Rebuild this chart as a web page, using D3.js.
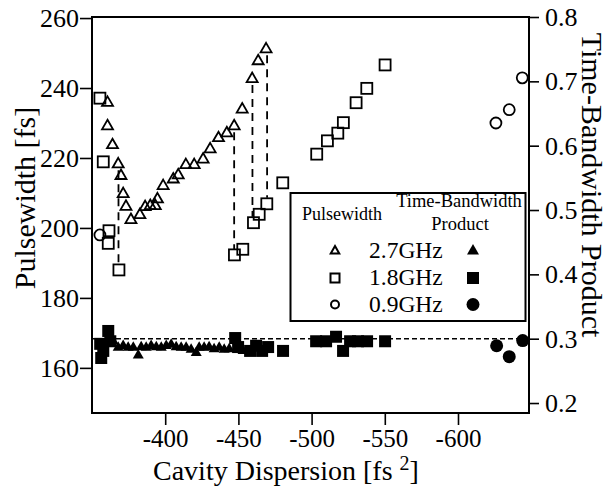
<!DOCTYPE html>
<html>
<head>
<meta charset="utf-8">
<script src="https://cdn.jsdelivr.net/npm/d3@7"></script>
<style>
  body { margin: 0; background: #fff; }
  svg { display: block; }
  text { font-family: "Liberation Serif", "Times New Roman", serif; fill: #000; }
</style>
</head>
<body>
<svg id="chart"></svg>
<script>
// Pulsewidth [fs] vs cavity dispersion [fs^2] (open symbols, left axis)
const pw27 = [[-360.6,235.8],[-360.6,229.1],[-364.0,223.7],[-367.9,218.2],[-369.8,214.9],[-371.3,209.7],
              [-373.2,206.1],[-376.6,202.3],[-382.7,203.7],[-386.3,206.0],[-389.8,206.3],[-393.2,206.3],
              [-394.7,208.2],[-398.6,212.0],[-405.5,213.9],[-408.9,215.1],[-414.1,218.0],[-419.8,218.0],
              [-425.9,219.6],[-430.7,222.5],[-436.4,225.7],[-442.1,227.1],[-447.1,229.1],[-452.6,233.9],
              [-459.4,242.6],[-463.5,247.7],[-468.9,251.1]];
const pw18 = [[-355.4,237.1],[-357.7,218.9],[-361.6,199.2],[-361.1,195.6],[-368.4,188.0],[-447.3,192.3],
              [-453.0,193.9],[-460.3,201.5],[-464.2,203.9],[-469.4,206.9],[-480.3,212.9],[-503.5,221.1],
              [-510.8,224.9],[-517.9,227.1],[-521.7,230.1],[-530.4,235.8],[-537.7,239.9],[-550.2,246.6]];
const pw09 = [[-355.4,198.0],[-625.9,230.0],[-635.0,233.8],[-643.9,242.9]];

// mode jumps: dispersion, upper pulsewidth, lower pulsewidth
const jumps = [[-368.1,218.2,188.0],[-447.1,229.1,192.3],[-459.6,242.6,201.5],[-469.6,251.1,206.9]];

// Time-bandwidth product (filled symbols, right axis)
const tbp27 = [[-364.5,0.296],[-367.9,0.286],[-371.3,0.289],[-374.7,0.286],[-378.2,0.286],[-381.6,0.274],
               [-383.6,0.287],[-387.0,0.286],[-390.4,0.289],[-393.9,0.287],[-397.3,0.286],[-400.7,0.289],
               [-404.1,0.291],[-407.5,0.287],[-410.9,0.286],[-414.3,0.286],[-417.7,0.283],[-421.2,0.278],
               [-423.2,0.286],[-426.6,0.286],[-430.0,0.287],[-433.4,0.284],[-436.9,0.286],[-440.3,0.283],
               [-443.7,0.284],[-453.2,0.281]];
const tbp18 = [[-356.3,0.270],[-357.7,0.281],[-361.1,0.312],[-355.6,0.292],[-362.5,0.296],[-447.8,0.301],
               [-449.8,0.287],[-458.0,0.281],[-462.1,0.289],[-466.2,0.281],[-470.3,0.287],[-480.5,0.281],
               [-503.1,0.296],[-509.9,0.296],[-516.7,0.303],[-521.5,0.281],[-526.3,0.296],[-531.7,0.296],
               [-537.9,0.296],[-550.2,0.296]];
const tbp09 = [[-626.4,0.289],[-635.0,0.272],[-644.2,0.297]];

const tbpLimit = 0.3;

const xTicks = [-400, -450, -500, -550, -600];
const yLeftTicks = [160, 180, 200, 220, 240, 260];
const yRightTicks = [0.2, 0.3, 0.4, 0.5, 0.6, 0.7, 0.8];

const legendRows = ['2.7GHz', '1.8GHz', '0.9GHz'];

function trianglePath(s) {
    const h = s * Math.sqrt(3) / 2;
    return `M0,${-2 * h / 3}L${s / 2},${h / 3}L${-s / 2},${h / 3}Z`;
}

class DispersionChart {
    constructor(config_) {
        this.config = config_;
        this.initVis();
    }

    initVis() {
        const vis = this;
        const m = vis.config.margin;
        vis.width = vis.config.width - m.left - m.right;
        vis.height = vis.config.height - m.top - m.bottom;

        vis.svg = d3.select('#' + vis.config.svgElementId)
            .attr('width', vis.config.width)
            .attr('height', vis.config.height);
        vis.chart = vis.svg.append('g').attr('transform', `translate(${m.left},${m.top})`);

        vis.x = d3.scaleLinear().domain([-350, -648.5]).range([0, vis.width]);
        vis.yL = d3.scaleLinear().domain([147.1, 260.3]).range([vis.height, 0]);
        vis.yR = d3.scaleLinear().domain([0.1845, 0.8]).range([vis.height, 0]);

        this.renderVis();
    }

    renderVis() {
        const vis = this;
        const g = vis.chart;

        // axes
        const xAxis = g.append('g').attr('transform', `translate(0,${vis.height})`)
            .call(d3.axisBottom(vis.x).tickValues(xTicks).tickSize(12).tickPadding(4).tickFormat(d => String(d)));
        const lAxis = g.append('g')
            .call(d3.axisLeft(vis.yL).tickValues(yLeftTicks).tickSize(12).tickPadding(1));
        const rAxis = g.append('g').attr('transform', `translate(${vis.width},0)`)
            .call(d3.axisRight(vis.yR).tickValues(yRightTicks).tickSize(10).tickPadding(6).tickFormat(d3.format('.1f')));
        [xAxis, lAxis, rAxis].forEach(a => {
            a.select('.domain').remove();
            a.selectAll('line').attr('stroke', '#000').attr('stroke-width', 1.6);
            a.selectAll('text').style('font-family', '"Liberation Serif", serif')
                .style('font-size', '26px').attr('fill', '#000');
        });
        xAxis.selectAll('text').style('font-size', '25px');

        // frame
        g.append('rect').attr('width', vis.width).attr('height', vis.height)
            .attr('fill', 'none').attr('stroke', '#000').attr('stroke-width', 2);

        // TBP = 0.3 reference
        g.append('line')
            .attr('x1', 0).attr('x2', vis.width)
            .attr('y1', vis.yR(tbpLimit)).attr('y2', vis.yR(tbpLimit))
            .attr('stroke', '#000').attr('stroke-width', 1.5).attr('stroke-dasharray', '5,3');

        // mode jump lines
        g.selectAll('.jump').data(jumps).join('line')
            .attr('class', 'jump')
            .attr('x1', d => vis.x(d[0])).attr('x2', d => vis.x(d[0]))
            .attr('y1', d => vis.yL(d[1]) + 6).attr('y2', d => vis.yL(d[2]) - 6)
            .attr('stroke', '#000').attr('stroke-width', 1.8).attr('stroke-dasharray', '8,6');

        const sw = 1.8;
        // open symbols
        g.selectAll('.pw27').data(pw27).join('path')
            .attr('class', 'pw27')
            .attr('transform', d => `translate(${vis.x(d[0])},${vis.yL(d[1])})`)
            .attr('d', trianglePath(11)).attr('fill', 'none').attr('stroke', '#000').attr('stroke-width', sw);
        g.selectAll('.pw18').data(pw18).join('rect')
            .attr('class', 'pw18')
            .attr('x', d => vis.x(d[0]) - 5.5).attr('y', d => vis.yL(d[1]) - 5.5)
            .attr('width', 11).attr('height', 11)
            .attr('fill', 'none').attr('stroke', '#000').attr('stroke-width', sw);
        g.selectAll('.pw09').data(pw09).join('circle')
            .attr('class', 'pw09')
            .attr('cx', d => vis.x(d[0])).attr('cy', d => vis.yL(d[1])).attr('r', 5.5)
            .attr('fill', 'none').attr('stroke', '#000').attr('stroke-width', sw);

        // filled symbols
        g.selectAll('.tbp27').data(tbp27).join('path')
            .attr('class', 'tbp27')
            .attr('transform', d => `translate(${vis.x(d[0])},${vis.yR(d[1])})`)
            .attr('d', trianglePath(11)).attr('fill', '#000');
        g.selectAll('.tbp18').data(tbp18).join('rect')
            .attr('class', 'tbp18')
            .attr('x', d => vis.x(d[0]) - 6).attr('y', d => vis.yR(d[1]) - 6)
            .attr('width', 12).attr('height', 12).attr('fill', '#000');
        g.selectAll('.tbp09').data(tbp09).join('circle')
            .attr('class', 'tbp09')
            .attr('cx', d => vis.x(d[0])).attr('cy', d => vis.yR(d[1])).attr('r', 6.5)
            .attr('fill', '#000');

        // legend
        const lg = vis.svg.append('g');
        lg.append('rect').attr('x', 290.5).attr('y', 193).attr('width', 235).attr('height', 128)
            .attr('fill', '#fff').attr('stroke', '#000').attr('stroke-width', 2);
        lg.append('text').attr('x', 302).attr('y', 220).style('font-size', '18px').text('Pulsewidth');
        lg.append('text').attr('x', 459).attr('y', 207).attr('text-anchor', 'middle')
            .style('font-size', '18.5px').text('Time-Bandwidth');
        lg.append('text').attr('x', 460).attr('y', 230).attr('text-anchor', 'middle')
            .style('font-size', '18.5px').text('Product');
        const rowY = [258, 285, 311.5];
        lg.selectAll('.lgtext').data(legendRows).join('text')
            .attr('class', 'lgtext')
            .attr('x', 369).attr('y', (d, i) => rowY[i]).style('font-size', '23.5px').text(d => d);
        const symY = rowY.map(y => y - 7);
        lg.append('path').attr('transform', `translate(335,${symY[0]})`).attr('d', trianglePath(8.5))
            .attr('fill', 'none').attr('stroke', '#000').attr('stroke-width', 2);
        lg.append('rect').attr('x', 330.5).attr('y', symY[1] - 4.5).attr('width', 9).attr('height', 9)
            .attr('fill', 'none').attr('stroke', '#000').attr('stroke-width', 2);
        lg.append('circle').attr('cx', 335).attr('cy', symY[2]).attr('r', 4)
            .attr('fill', 'none').attr('stroke', '#000').attr('stroke-width', 2);
        lg.append('path').attr('transform', `translate(473,${symY[0]})`).attr('d', trianglePath(12)).attr('fill', '#000');
        lg.append('rect').attr('x', 467).attr('y', symY[1] - 6).attr('width', 12).attr('height', 12).attr('fill', '#000');
        lg.append('circle').attr('cx', 473).attr('cy', symY[2]).attr('r', 6.5).attr('fill', '#000');

        // axis titles
        vis.svg.append('text')
            .attr('transform', 'translate(35,198) rotate(-90)')
            .attr('text-anchor', 'middle').style('font-size', '30px').text('Pulsewidth [fs]');
        vis.svg.append('text')
            .attr('transform', 'translate(582,185) rotate(90)')
            .attr('text-anchor', 'middle').style('font-size', '30px').text('Time-Bandwidth Product');
        const xt = vis.svg.append('text').attr('x', 153).attr('y', 479.5).style('font-size', '28px');
        xt.append('tspan').text('Cavity Dispersion [fs ');
        xt.append('tspan').attr('dy', -10).style('font-size', '20px').text('2');
        xt.append('tspan').attr('dy', 10).text(']');
    }
}

new DispersionChart({
    svgElementId: 'chart',
    width: 608,
    height: 486,
    margin: { top: 17, right: 79, bottom: 73, left: 92 }
});
</script>
</body>
</html>
